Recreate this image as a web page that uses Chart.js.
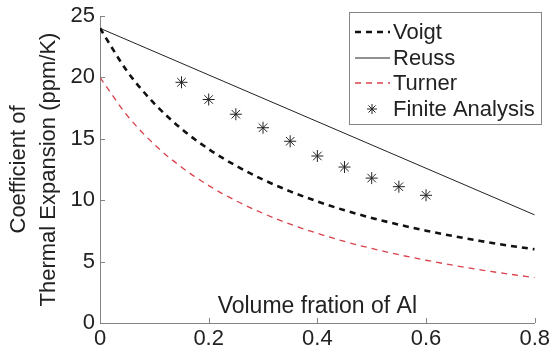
<!DOCTYPE html>
<html lang="en">
<head>
<meta charset="UTF-8">
<title>Coefficient of Thermal Expansion vs Volume Fraction</title>
<script src="https://cdn.jsdelivr.net/npm/chart.js@4.4.0/dist/chart.umd.min.js"></script>
<style>
  html, body { margin: 0; background: #fff; }
  #wrap { width: 555px; height: 354px; }
</style>
</head>
<body>
<div id="wrap"><canvas id="cte"></canvas></div>
<script>
// values
const fraction = [0, 0.05, 0.1, 0.15, 0.2, 0.25, 0.3, 0.35, 0.4, 0.45, 0.5, 0.55, 0.6, 0.65, 0.7, 0.75, 0.8];
const voigt  = [24, 20.5, 17.87, 15.81, 14.16, 12.81, 11.68, 10.72, 9.9, 9.18, 8.56, 8.01, 7.52, 7.08, 6.68, 6.32, 6.0];
const turner = [20, 16.9, 14.54, 12.69, 11.19, 9.96, 8.93, 8.05, 7.3, 6.64, 6.07, 5.56, 5.11, 4.7, 4.33, 4.0, 3.7];
const reussX = [0, 0.8];
const reuss  = [24, 8.8];
const feaX = [0.15, 0.2, 0.25, 0.3, 0.35, 0.4, 0.45, 0.5, 0.55, 0.6];
const fea  = [19.6, 18.2, 17.0, 15.9, 14.8, 13.6, 12.7, 11.8, 11.1, 10.4];
const xTicks = [0, 0.2, 0.4, 0.6, 0.8];
const yTicks = [0, 5, 10, 15, 20, 25];

const FONT = '"Liberation Sans", Arial, Helvetica, sans-serif';
const AXIS = '#858585';

const pts = (xs, ys) => xs.map((x, i) => ({ x: x, y: ys[i] }));

// small tick marks pointing into the plot, like the original
const innerTicks = {
  id: 'innerTicks',
  afterDraw(chart) {
    const { ctx, chartArea, scales: { x, y } } = chart;
    ctx.save();
    ctx.strokeStyle = AXIS;
    ctx.lineWidth = 1;
    ctx.beginPath();
    x.ticks.forEach(t => {
      const px = Math.round(x.getPixelForValue(t.value)) + 0.5;
      ctx.moveTo(px, chartArea.bottom);
      ctx.lineTo(px, chartArea.bottom - 5);
    });
    y.ticks.forEach(t => {
      const py = Math.round(y.getPixelForValue(t.value)) + 0.5;
      ctx.moveTo(chartArea.left, py);
      ctx.lineTo(chartArea.left + 5, py);
    });
    ctx.stroke();
    ctx.restore();
  }
};

// boxed legend in the upper right corner
const boxLegend = {
  id: 'boxLegend',
  afterDraw(chart) {
    const ctx = chart.ctx;
    const left = 349, top = 12, w = 192, h = 112, row = 25.5;
    ctx.save();
    ctx.fillStyle = '#fff';
    ctx.fillRect(left, top, w, h);
    ctx.strokeStyle = AXIS;
    ctx.lineWidth = 1;
    ctx.strokeRect(left + 0.5, top + 0.5, w, h);
    ctx.font = '22px ' + FONT;
    ctx.textBaseline = 'middle';
    chart.data.datasets.forEach((ds, i) => {
      const cy = Math.round(top + 20 + i * row);
      if (ds.showLine === false) {
        ctx.strokeStyle = ds.borderColor;
        ctx.lineWidth = 1;
        Chart.helpers.drawPoint(ctx, {
          pointStyle: 'star', radius: 5, rotation: 0, borderWidth: 1
        }, left + 23, cy);
      } else {
        ctx.strokeStyle = ds.borderColor;
        ctx.lineWidth = ds.borderWidth;
        ctx.setLineDash(ds.borderDash || []);
        ctx.beginPath();
        ctx.moveTo(left + 6, cy);
        ctx.lineTo(left + 41, cy);
        ctx.stroke();
        ctx.setLineDash([]);
      }
      ctx.fillStyle = '#222';
      ctx.fillText(ds.label, left + 44, cy + 1);
    });
    ctx.restore();
  }
};

new Chart(document.getElementById('cte'), {
  type: 'line',
  data: {
    datasets: [
      {
        label: 'Voigt',
        data: pts(fraction, voigt),
        borderColor: '#111',
        borderWidth: 2.6,
        borderDash: [6, 5],
        pointRadius: 0,
        cubicInterpolationMode: 'monotone'
      },
      {
        label: 'Reuss',
        data: pts(reussX, reuss),
        borderColor: '#222',
        borderWidth: 1,
        pointRadius: 0
      },
      {
        label: 'Turner',
        data: pts(fraction, turner),
        borderColor: '#d9414b',
        borderWidth: 1.3,
        borderDash: [6, 5],
        pointRadius: 0,
        cubicInterpolationMode: 'monotone'
      },
      {
        label: 'Finite Analysis',
        data: pts(feaX, fea),
        showLine: false,
        pointStyle: 'star',
        pointRadius: 6,
        pointBorderWidth: 1,
        borderColor: '#222',
        backgroundColor: '#222'
      }
    ]
  },
  options: {
    responsive: true,
    maintainAspectRatio: false,
    animation: false,
    layout: { padding: { top: 13, right: 17, left: 0, bottom: 0 } },
    plugins: {
      legend: { display: false },
      tooltip: { enabled: false }
    },
    scales: {
      x: {
        type: 'linear',
        min: 0,
        max: 0.8,
        afterBuildTicks: s => { s.ticks = xTicks.map(v => ({ value: v })); },
        afterFit: s => { s.height = 31; },
        grid: { display: false, drawTicks: false },
        border: { display: true, color: AXIS, width: 1 },
        ticks: { color: '#222', padding: 5, font: { family: FONT, size: 22, lineHeight: 1 } },
        title: {
          display: true,
          text: 'Volume fration of Al',
          color: '#222',
          font: { family: FONT, size: 23 },
          padding: { top: 0, bottom: 34 }
        }
      },
      y: {
        min: 0,
        max: 25,
        afterBuildTicks: s => { s.ticks = yTicks.map(v => ({ value: v })); },
        afterFit: s => { s.width = 100; },
        grid: { display: false, drawTicks: false },
        border: { display: true, color: AXIS, width: 1 },
        ticks: { color: '#222', padding: 5, font: { family: FONT, size: 22, lineHeight: 1 } },
        title: {
          display: true,
          text: ['Coefficient of', 'Thermal Expansion (ppm/K)'],
          color: '#222',
          font: { family: FONT, size: 22, lineHeight: '30px' },
          padding: { top: 4, bottom: 0 }
        }
      }
    }
  },
  plugins: [innerTicks, boxLegend]
});
</script>
</body>
</html>
